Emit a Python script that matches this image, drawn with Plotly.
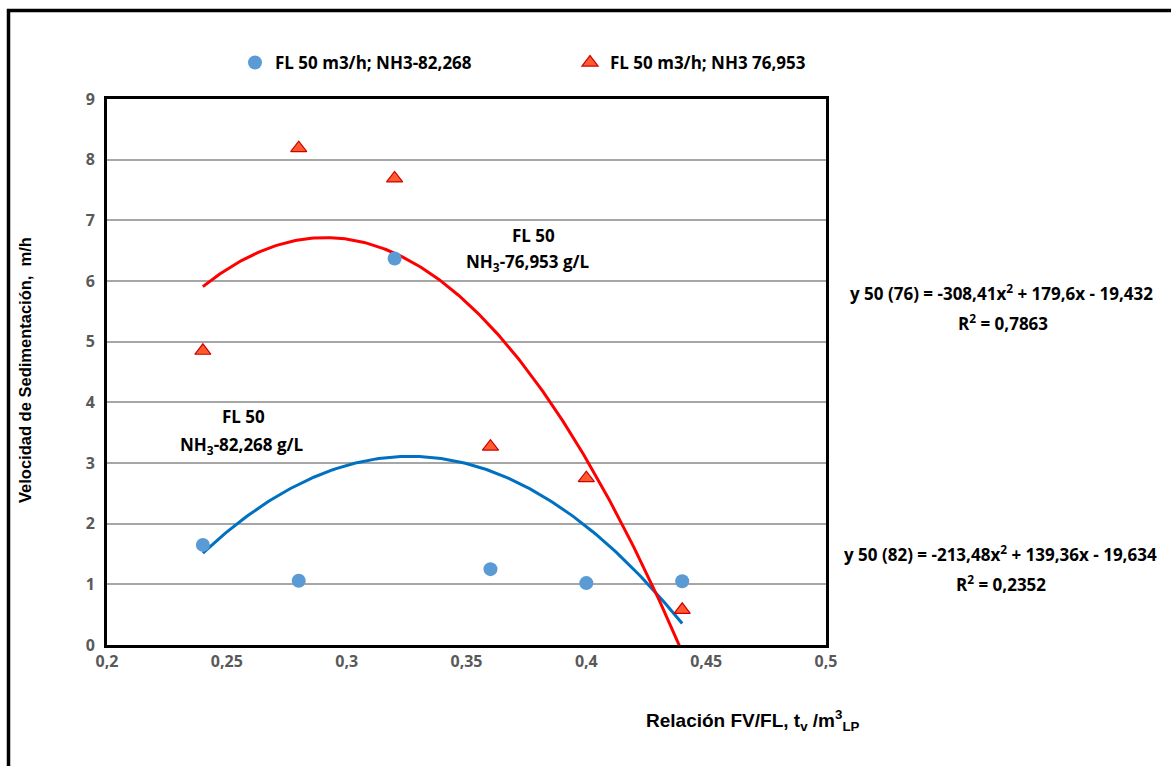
import numpy as np
import plotly.graph_objects as go

# ---- data ----
x_vals = [0.24, 0.28, 0.32, 0.36, 0.40, 0.44]
y_82 = [1.65, 1.06, 6.37, 1.25, 1.02, 1.05]
y_76 = [4.85, 8.19, 7.69, 3.27, 2.75, 0.58]
coef_76 = [-308.41, 179.6, -19.432]   # quadratic trendline coefficients
coef_82 = [-213.48, 139.36, -19.634]
trend_range = [0.24, 0.44]
x_ticks = [0.2, 0.25, 0.3, 0.35, 0.4, 0.45, 0.5]
x_tick_labels = ["0,2", "0,25", "0,3", "0,35", "0,4", "0,45", "0,5"]
y_ticks = [0, 1, 2, 3, 4, 5, 6, 7, 8, 9]
name_82 = "FL 50 m3/h; NH3-82,268"
name_76 = "FL 50 m3/h; NH3 76,953"

xt = np.linspace(trend_range[0], trend_range[1], 200)
yt_76 = np.polyval(coef_76, xt)
yt_82 = np.polyval(coef_82, xt)

LBL = "Open Sans"
fig = go.Figure()
fig.add_trace(go.Scatter(x=xt, y=yt_82, mode="lines", line=dict(color="#0070C0", width=3),
                         showlegend=False, hoverinfo="skip"))
fig.add_trace(go.Scatter(x=xt, y=yt_76, mode="lines", line=dict(color="#FF0000", width=3),
                         showlegend=False, hoverinfo="skip"))
fig.add_trace(go.Scatter(x=x_vals, y=y_82, mode="markers", name=name_82,
                         marker=dict(symbol="circle", size=14, color="#5B9BD5")))
fig.add_trace(go.Scatter(x=x_vals, y=y_76, mode="markers", name=name_76,
                         marker=dict(symbol="triangle-up", size=14, color="#FF5B2E",
                                     line=dict(color="#D00000", width=1.2))))

tickfont = dict(family=LBL, size=16, color="#595959", weight="bold")
fig.update_layout(
    width=1171, height=766,
    margin=dict(l=107, r=345, t=99, b=121, autoexpand=False),
    paper_bgcolor="white", plot_bgcolor="white",
    xaxis=dict(range=[0.2, 0.5], tickvals=x_ticks, ticktext=x_tick_labels,
               showgrid=False, zeroline=False, showline=True, mirror=True,
               linecolor="black", linewidth=3, tickfont=tickfont, ticks="",
               automargin=False),
    yaxis=dict(range=[0, 9], tickvals=y_ticks, showgrid=True, gridcolor="#A6A6A6",
               gridwidth=1.5, zeroline=False, showline=True, mirror=True,
               linecolor="black", linewidth=3, tickfont=tickfont, ticks="",
               ticklabelstandoff=6, automargin=False),
    legend=dict(orientation="h", x=(235 - 107) / 719, xanchor="left",
                y=(645 - 63) / 546, yanchor="middle",
                font=dict(family=LBL, size=17, color="black", weight="bold"),
                entrywidth=290, bgcolor="rgba(0,0,0,0)"),
    showlegend=True,
)


def px_x(p):
    return (p - 107) / 719


def px_y(p):
    return (645 - p) / 546


def note(text, x, y, size=17, family=LBL, angle=0):
    fig.add_annotation(xref="paper", yref="paper", x=px_x(x), y=px_y(y),
                       xanchor="center", yanchor="middle", text=text, showarrow=False,
                       textangle=angle, font=dict(family=family, size=size, color="black"))


# axis titles
note("<b>Velocidad de Sedimentación,  m/h</b>", 25, 370, size=16.5,
     family="Liberation Sans", angle=-90)
note("<b>Relación FV/FL, t<sub>v</sub> /m<sup>3</sup><sub>LP</sub></b>", 753, 720, size=19,
     family="Liberation Sans")

# series labels
note("<b>FL 50</b>", 243, 417)
note("<b>NH<sub>3</sub>-82,268 g/L</b>", 242, 445)
note("<b>FL 50</b>", 533, 235)
note("<b>NH<sub>3</sub>-76,953 g/L</b>", 528, 262)

# trendline equations
note("<b>y 50 (76) = -308,41x<sup>2</sup> + 179,6x - 19,432</b>", 1001, 292)
note("<b>R<sup>2</sup> = 0,7863</b>", 1003, 322)
note("<b>y 50 (82) = -213,48x<sup>2</sup> + 139,36x - 19,634</b>", 1000, 553)
note("<b>R<sup>2</sup> = 0,2352</b>", 1001, 583)

# outer frame
fig.add_shape(type="rect", xref="paper", yref="paper",
              x0=px_x(8.5), x1=px_x(1190), y0=px_y(790), y1=px_y(10.5),
              line=dict(color="black", width=3.5), layer="below")

fig.write_html("out.html")
